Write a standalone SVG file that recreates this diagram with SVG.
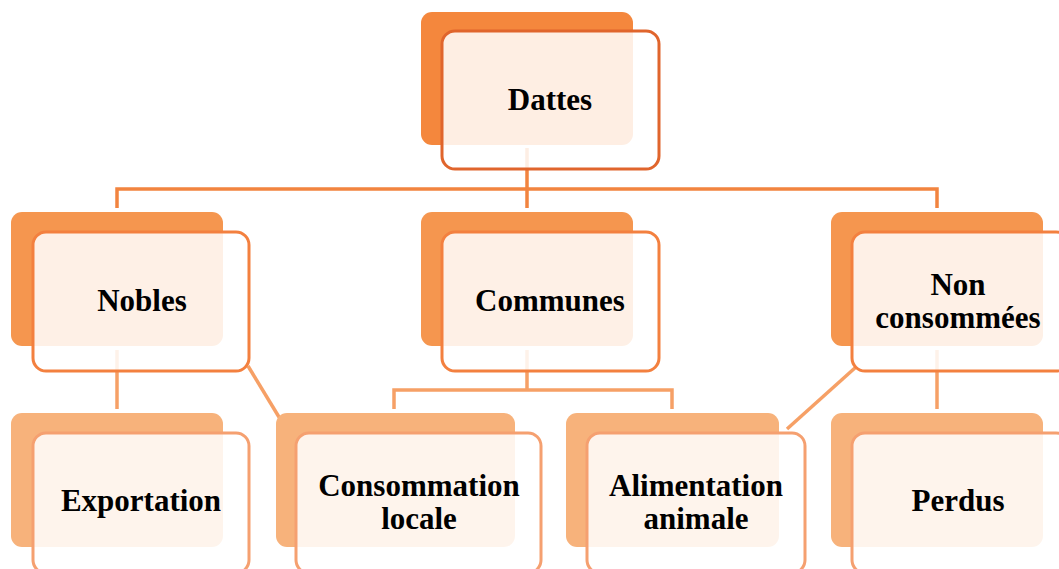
<svg xmlns="http://www.w3.org/2000/svg" width="1059" height="569" viewBox="0 0 1059 569">
<style>
.bg{fill:#ffffff}
.b1{fill:#f4873d}
.b2{fill:#f5964f}
.b3{fill:#f7b27b}
.f{fill:#ffffff;fill-opacity:0.86;stroke-width:3}
.f1{stroke:#e0652c}
.f2{stroke:#f3803f}
.f3{stroke:#f5a070}
.c1{stroke:#f2843f;stroke-width:3.5;fill:none}
.c2{stroke:#f6a066;stroke-width:3.5;fill:none}
text{font-family:"Liberation Serif","Times New Roman",serif;font-weight:bold;font-size:31px;fill:#000;text-anchor:middle}
</style>
<rect class="bg" x="0" y="0" width="1059" height="569"/>
<g id="connectors">
<path class="c1" d="M527 148 V208 M117 208 V189 H937 V208"/>
<path class="c2" d="M117 350 V409"/>
<path class="c2" d="M248 366 L282 422"/>
<path class="c2" d="M527 350 V390 M394 409 V390 H672 V409"/>
<path class="c2" d="M856 367 L787 429"/>
<path class="c2" d="M937 350 V409"/>
</g>
<g id="dattes">
<rect class="b1" x="421" y="12" width="212" height="133" rx="11"/>
<rect class="f f1" x="442" y="31" width="217" height="138" rx="13"/>
<text x="550" y="110">Dattes</text>
</g>
<g id="nobles">
<rect class="b2" x="11" y="212" width="212" height="134" rx="11"/>
<rect class="f f2" x="33" y="232" width="216" height="139" rx="13"/>
<text x="142" y="311">Nobles</text>
</g>
<g id="communes">
<rect class="b2" x="421" y="212" width="212" height="134" rx="11"/>
<rect class="f f2" x="442" y="232" width="217" height="139" rx="13"/>
<text x="550" y="311">Communes</text>
</g>
<g id="non-consommees">
<rect class="b2" x="831" y="212" width="212" height="134" rx="11"/>
<rect class="f f2" x="852" y="232" width="217" height="139" rx="13"/>
<text x="958" y="295">Non</text>
<text x="958" y="328">consommées</text>
</g>
<g id="exportation">
<rect class="b3" x="11" y="413" width="212" height="134" rx="11"/>
<rect class="f f3" x="33" y="433" width="216" height="140" rx="13"/>
<text x="141" y="511">Exportation</text>
</g>
<g id="consommation-locale">
<rect class="b3" x="276" y="413" width="239" height="134" rx="11"/>
<rect class="f f3" x="296" y="433" width="245" height="140" rx="13"/>
<text x="419" y="496">Consommation</text>
<text x="419" y="529">locale</text>
</g>
<g id="alimentation-animale">
<rect class="b3" x="566" y="413" width="213" height="134" rx="11"/>
<rect class="f f3" x="587" y="433" width="218" height="140" rx="13"/>
<text x="696" y="496">Alimentation</text>
<text x="696" y="529">animale</text>
</g>
<g id="perdus">
<rect class="b3" x="831" y="413" width="212" height="134" rx="11"/>
<rect class="f f3" x="852" y="433" width="217" height="140" rx="13"/>
<text x="958" y="511">Perdus</text>
</g>
</svg>
